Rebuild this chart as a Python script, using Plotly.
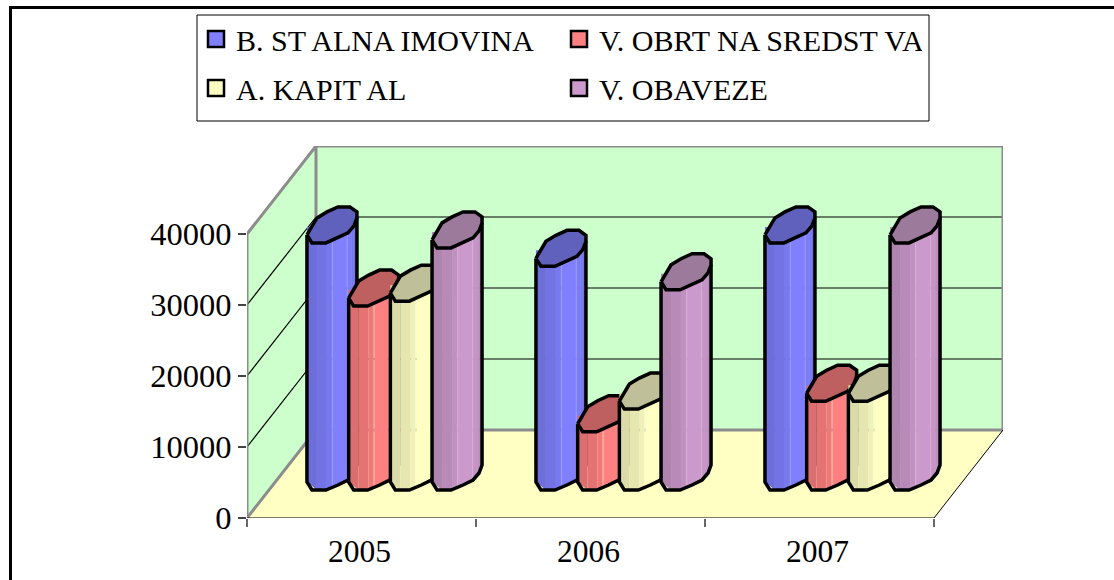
import numpy as np
import plotly.graph_objects as go

categories = ["2005", "2006", "2007"]
series_names = ["B. ST ALNA IMOVINA", "V. OBRT NA SREDST VA", "A. KAPIT AL", "V. OBAVEZE"]
stalna = [34800, 31500, 34800]
obrtna = [25900, 8200, 12500]
kapital = [26600, 11400, 12500]
obaveze = [34100, 28200, 34800]
series_values = [stalna, obrtna, kapital, obaveze]
series_colors = ["#8080ff", "#ff8080", "#ffffc4", "#cc99cc"]
top_colors = ["#6060bd", "#bf6060", "#bfbf99", "#9b7a9b"]
y_ticks = [0, 10000, 20000, 30000, 40000]

W, H = 1114, 580
X0, YB, DX, DY = 247, 518, 69, 88      # floor origin and depth offset (px)
PX_CAT, PX_10K = 229, 71               # scale
FONT = "Liberation Serif"


def ux(px):
    return px / PX_CAT


def uy(px):
    return px / PX_10K * 10000


D_X, D_Y = ux(DX), uy(DY)
lower = np.array([(-25, 10), (-20, 18), (-6, 18), (6, 13), (16, 8), (22, 1), (25, -7)], float)
upper = np.array([(25, -13), (18, -18), (6, -18), (-5, -13), (-15, -7), (-25, 10)], float)
strips = [(-25, -15, .86), (-15, -5, .90), (-5, 0, .94), (0, 1, 1.06), (1, 15, 1.0),
          (15, 16, 1.05), (16, 20, .97), (20, 22, .94), (22, 25, .90)]


def shade(col, f):
    rgb = [int(col[i:i + 2], 16) for i in (1, 3, 5)]
    if f > 1:
        rgb = [c + (255 - c) * (f - 1) * 3 for c in rgb]
    else:
        rgb = [c * f for c in rgb]
    return "rgb(%d,%d,%d)" % tuple(min(255, round(c)) for c in rgb)


fig = go.Figure()


def poly(xs, ys, fill=None, line=None, width=0):
    fig.add_trace(go.Scatter(
        x=list(xs), y=list(ys), mode="lines", showlegend=False, hoverinfo="skip",
        fill="toself" if fill else "none", fillcolor=fill,
        line=dict(color=line if line else "rgba(0,0,0,0)", width=width, shape="linear"),
    ))


n = len(categories)
top_v = 40000
WALL, FLOOR, GRAY = "#ccffcc", "#ffffc4", "#8c8c8c"
# back wall, side wall, floor
poly([D_X, n + D_X, n + D_X, D_X, D_X], [D_Y, D_Y, top_v + D_Y, top_v + D_Y, D_Y], WALL)
poly([0, D_X, D_X, 0, 0], [0, D_Y, top_v + D_Y, top_v, 0], WALL)
poly([0, n, n + D_X, D_X, 0], [0, 0, D_Y, D_Y, 0], FLOOR)
for v in y_ticks[1:-1]:
    poly([0, D_X, n + D_X], [v, v + D_Y, v + D_Y], line="#000000", width=1.2)
poly([0, 0, D_X, n + D_X, n + D_X, D_X, D_X], [0, top_v, top_v + D_Y, top_v + D_Y, D_Y, D_Y, top_v + D_Y],
     line=GRAY, width=3)
poly([0, D_X], [0, D_Y], line=GRAY, width=3)
poly([0, n], [0, 0], line="#000000", width=1.2)
poly([n, n + D_X], [0, D_Y], line="#000000", width=1)

# columns, painted left to right
for i in range(n):
    for j, (vals, col, topc) in enumerate(zip(series_values, series_colors, top_colors)):
        cx = i + .5 + ux(33) + (j - 1.5) * ux(41.7)
        base = uy(46)
        v = vals[i]
        for a, b, f in strips:
            low = np.interp([a, b], lower[:, 0], lower[:, 1])
            poly([cx + ux(a), cx + ux(b), cx + ux(b), cx + ux(a), cx + ux(a)],
                 [base - uy(low[0]), base - uy(low[1]), base + v - uy(2), base + v - uy(2), base - uy(low[0])],
                 shade(col, f))
        # outline of the column
        poly([cx + ux(-25), *(cx + ux(p) for p in lower[:, 0]), cx + ux(25)],
             [base + v - uy(10), *(base - uy(p) for p in lower[:, 1]), base + v + uy(7)],
             line="#000000", width=3.5)
        # top face
        ring = np.vstack([lower, upper, lower[:1]])
        poly(cx + ux(ring[:, 0]), base + v - uy(ring[:, 1]), topc, "#000000", 3.5)

# legend entries: two rows held in two legends inside one frame
for j, (name, col) in enumerate(zip(series_names, series_colors)):
    fig.add_trace(go.Scatter(
        x=[None], y=[None], mode="markers", name=name,
        legend="legend" if j < 2 else "legend2",
        marker=dict(symbol="square", size=16, color=col, line=dict(color="#000000", width=2.5)),
    ))

legend_common = dict(
    orientation="h", xanchor="left", yanchor="top", itemsizing="trace",
    bgcolor="rgba(0,0,0,0)", borderwidth=0, entrywidth=318, entrywidthmode="pixels",
    font=dict(family=FONT, size=30, color="#000000"), itemclick=False, itemdoubleclick=False,
    traceorder="normal",
)

fig.update_layout(
    width=W, height=H, autosize=False, margin=dict(l=0, r=0, t=0, b=0),
    paper_bgcolor="#ffffff", plot_bgcolor="rgba(0,0,0,0)",
    legend=dict(x=196 / W, y=1 - 13 / H, **legend_common),
    legend2=dict(x=196 / W, y=1 - 62 / H, **legend_common),
    xaxis=dict(
        automargin=False,
        domain=[X0 / W, (X0 + (n * PX_CAT) + DX) / W],
        range=[0, n + D_X], tickmode="array",
        tickvals=[k + .5 - ux(2) for k in range(n)], ticktext=categories, ticks="",
        showgrid=False, zeroline=False, showline=False,
        ticklabelstandoff=11,
        tickfont=dict(family=FONT, size=31.5, color="#000000"),
        minor=dict(tickmode="array", tickvals=list(range(n + 1)), ticks="outside",
                   ticklen=8, tickwidth=1.5, tickcolor="#666666", showgrid=False),
    ),
    yaxis=dict(
        automargin=False,
        domain=[(H - YB) / H, (H - (YB - 40000 * PX_10K / 10000 - DY)) / H],
        range=[0, top_v + D_Y], tickmode="array", tickvals=y_ticks,
        ticktext=[str(t) for t in y_ticks], ticks="outside", ticklen=8, tickwidth=1.5,
        tickcolor="#444444", showgrid=False, zeroline=False, showline=False,
        tickfont=dict(family=FONT, size=32.5, color="#000000"),
    ),
    shapes=[
        dict(type="rect", xref="paper", yref="paper", x0=197 / W, x1=929 / W,
             y0=1 - 121 / H, y1=1 - 15 / H, line=dict(color="#000000", width=1), fillcolor="#ffffff",
             layer="below"),
        dict(type="line", xref="paper", yref="paper", x0=10.5 / W, x1=1, y0=1 - 7.5 / H, y1=1 - 7.5 / H,
             line=dict(color="#000000", width=3), layer="below"),
        dict(type="line", xref="paper", yref="paper", x0=10.5 / W, x1=10.5 / W, y0=0, y1=1 - 6 / H,
             line=dict(color="#000000", width=3), layer="below"),
    ],
)

fig.write_html("out.html", config={"displayModeBar": False},
               post_script="document.body.style.margin='0';")
